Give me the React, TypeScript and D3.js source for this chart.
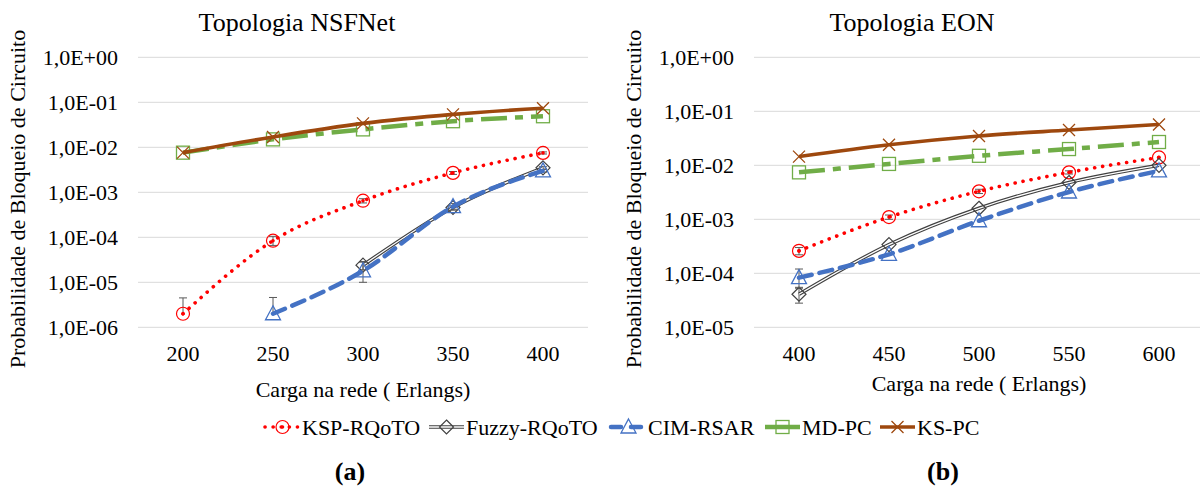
import * as d3 from "d3";

// categories (Erlangs)
const loadsNSF = ["200", "250", "300", "350", "400"];
const loadsEON = ["400", "450", "500", "550", "600"];

// y tick labels
const ticksNSF = ["1,0E+00", "1,0E-01", "1,0E-02", "1,0E-03", "1,0E-04", "1,0E-05", "1,0E-06"];
const ticksEON = ["1,0E+00", "1,0E-01", "1,0E-02", "1,0E-03", "1,0E-04", "1,0E-05"];

// NSFNet values
const nsfKSP = [2.0e-6, 8.4e-5, 6.5e-4, 2.7e-3, 7.5e-3];
const nsfFuzzy = [null, null, 2.4e-5, 4.6e-4, 3.5e-3];
const nsfCIM = [null, 2.0e-6, 1.8e-5, 4.8e-4, 3.0e-3];
const nsfMD = [7.6e-3, 1.5e-2, 2.5e-2, 3.8e-2, 4.9e-2];
const nsfKS = [7.6e-3, 1.7e-2, 3.4e-2, 5.4e-2, 7.4e-2];

// NSFNet error bars [low, high]
const nsfKSPErr = [[null, 4.5e-6], [6.6e-5, 1.05e-4], [5.8e-4, 7.2e-4], [2.5e-3, 2.9e-3], [7.1e-3, 7.9e-3]];
const nsfFuzzyErr = [null, null, [1.9e-5, 2.9e-5], [4.2e-4, 5.0e-4], [3.3e-3, 3.7e-3]];
const nsfCIMErr = [null, [null, 4.6e-6], [1.0e-5, 2.8e-5], [4.0e-4, 5.6e-4], [2.8e-3, 3.2e-3]];

// EON values
const eonKSP = [2.6e-4, 1.1e-3, 3.3e-3, 7.4e-3, 1.4e-2];
const eonFuzzy = [4.1e-5, 3.4e-4, 1.6e-3, 4.8e-3, 1.0e-2];
const eonCIM = [8.3e-5, 2.25e-4, 9.4e-4, 3.2e-3, 7.9e-3];
const eonMD = [7.4e-3, 1.06e-2, 1.5e-2, 2.0e-2, 2.7e-2];
const eonKS = [1.45e-2, 2.4e-2, 3.5e-2, 4.5e-2, 5.7e-2];

const eonKSPErr = [[2.2e-4, 3.0e-4], [1.0e-3, 1.2e-3], [3.0e-3, 3.6e-3], [6.9e-3, 7.9e-3], null];
const eonFuzzyErr = [[2.8e-5, 5.3e-5], null, null, null, null];
const eonCIMErr = [[5.5e-5, 1.2e-4], null, null, null, null];

const seriesNames = ["KSP-RQoTO", "Fuzzy-RQoTO", "CIM-RSAR", "MD-PC", "KS-PC"];

const FONT = "Liberation Serif, Times New Roman, serif";

const styles = {
  "KSP-RQoTO": { color: "#ff0000", width: 3.6, dash: "0.1 8", cap: "round", marker: "circle" },
  "Fuzzy-RQoTO": { color: "#404040", width: 3.6, dash: null, cap: "butt", marker: "diamond" },
  "CIM-RSAR": { color: "#4472c4", width: 4.5, dash: "13 8", cap: "round", marker: "triangle" },
  "MD-PC": { color: "#70ad47", width: 4.5, dash: "26 8 8 8", cap: "butt", marker: "square" },
  "KS-PC": { color: "#9e480e", width: 3.6, dash: null, cap: "butt", marker: "x" },
};

function Marker({ type, x, y, color }) {
  if (type === "circle")
    return (
      <g>
        <circle cx={x} cy={y} r={6.5} fill="none" stroke={color} strokeWidth={1.2} />
        <circle cx={x} cy={y} r={1.8} fill={color} />
      </g>
    );
  if (type === "diamond")
    return <path d={`M${x},${y - 7}L${x + 7},${y}L${x},${y + 7}L${x - 7},${y}Z`} fill="none" stroke="#404040" strokeWidth={1.2} />;
  if (type === "triangle")
    return <path d={`M${x},${y - 8}L${x + 7.5},${y + 6}L${x - 7.5},${y + 6}Z`} fill="none" stroke={color} strokeWidth={1.3} />;
  if (type === "square")
    return <rect x={x - 6.5} y={y - 6.5} width={13} height={13} fill="none" stroke={color} strokeWidth={1.3} />;
  return (
    <path d={`M${x - 6},${y - 6}L${x + 6},${y + 6}M${x + 6},${y - 6}L${x - 6},${y + 6}`} stroke={color} strokeWidth={1.3} />
  );
}

function Panel({ cats, ticks, series, errs, title, left, tickRight, titleX, yLabelX, xLabelY }) {
  const top = 57.3;
  const bottom = 327.3;
  const x = d3.scaleBand().domain(cats).range([left, left + 450]);
  const minExp = -(ticks.length - 1);
  const y = d3.scaleLog().domain([Math.pow(10, minExp), 1]).range([bottom, top]);
  const cx = (c) => x(c) + x.bandwidth() / 2;
  const line = d3
    .line()
    .defined((d) => d[1] != null)
    .x((d) => cx(d[0]))
    .y((d) => y(d[1]))
    .curve(d3.curveMonotoneX);

  return (
    <g fontFamily={FONT}>
      {ticks.map((t, i) => (
        <g key={t}>
          <line x1={left} x2={left + 450} y1={y(Math.pow(10, -i))} y2={y(Math.pow(10, -i))} stroke="#d9d9d9" strokeWidth={1} />
          <text x={tickRight} y={y(Math.pow(10, -i))} dy="0.35em" textAnchor="end" fontSize={22}>
            {t}
          </text>
        </g>
      ))}
      {cats.map((c) => (
        <text key={c} x={cx(c)} y={361} textAnchor="middle" fontSize={22}>
          {c}
        </text>
      ))}
      <text x={titleX} y={31} textAnchor="middle" fontSize={26}>
        {title}
      </text>
      <text transform={`translate(${yLabelX},199) rotate(-90)`} textAnchor="middle" fontSize={22}>
        Probabilidade de Bloqueio de Circuito
      </text>
      <text x={left + 225} y={xLabelY} textAnchor="middle" fontSize={22}>
        Carga na rede ( Erlangs)
      </text>
      {seriesNames.map((name, si) => {
        const st = styles[name];
        const pts = cats.map((c, i) => [c, series[si][i]]);
        const d = line(pts);
        const err = errs[si];
        return (
          <g key={name}>
            {err &&
              err.map((e, i) =>
                e && series[si][i] != null ? (
                  <g key={i} stroke="#595959" strokeWidth={1}>
                    <line x1={cx(cats[i])} x2={cx(cats[i])} y1={y(e[0] ?? series[si][i])} y2={y(e[1])} />
                    <line x1={cx(cats[i]) - 4} x2={cx(cats[i]) + 4} y1={y(e[1])} y2={y(e[1])} />
                    {e[0] != null && <line x1={cx(cats[i]) - 4} x2={cx(cats[i]) + 4} y1={y(e[0])} y2={y(e[0])} />}
                  </g>
                ) : null
              )}
            <path d={d} fill="none" stroke={st.color} strokeWidth={st.width} strokeDasharray={st.dash || undefined} strokeLinecap={st.cap} />
            {name === "Fuzzy-RQoTO" && <path d={d} fill="none" stroke="#ffffff" strokeWidth={1.3} />}
            {pts.map((p, i) =>
              p[1] != null ? <Marker key={i} type={st.marker} x={cx(p[0])} y={y(p[1])} color={st.color} /> : null
            )}
          </g>
        );
      })}
    </g>
  );
}

function Legend() {
  const items = [
    { name: "KSP-RQoTO", x0: 265 },
    { name: "Fuzzy-RQoTO", x0: 429 },
    { name: "CIM-RSAR", x0: 611 },
    { name: "MD-PC", x0: 765 },
    { name: "KS-PC", x0: 880 },
  ];
  const ly = 427;
  return (
    <g fontFamily={FONT}>
      {items.map((it) => {
        const st = styles[it.name];
        const len = 35;
        return (
          <g key={it.name}>
            <line
              x1={it.x0}
              x2={it.x0 + len}
              y1={ly}
              y2={ly}
              stroke={st.color}
              strokeWidth={st.width}
              strokeDasharray={it.name === "KSP-RQoTO" ? "0.1 8" : it.name === "CIM-RSAR" ? "10 10" : undefined}
              strokeLinecap={st.cap}
            />
            {it.name === "Fuzzy-RQoTO" && <line x1={it.x0} x2={it.x0 + len} y1={ly} y2={ly} stroke="#fff" strokeWidth={1.3} />}
            <Marker type={st.marker} x={it.x0 + len / 2} y={ly} color={st.color} />
            <text x={it.x0 + len + 2} y={ly} dy="0.35em" fontSize={22}>
              {it.name}
            </text>
          </g>
        );
      })}
    </g>
  );
}

export default function App() {
  return (
    <svg width={1200} height={490} style={{ position: "absolute", left: 0, top: 0, background: "#fff" }} fontFamily={FONT}>
      <rect width={1200} height={490} fill="#fff" />
      <Panel
        cats={loadsNSF}
        ticks={ticksNSF}
        series={[nsfKSP, nsfFuzzy, nsfCIM, nsfMD, nsfKS]}
        errs={[nsfKSPErr, nsfFuzzyErr, nsfCIMErr, null, null]}
        title="Topologia NSFNet"
        left={138}
        tickRight={118}
        titleX={297}
        yLabelX={25}
        xLabelY={397}
      />
      <Panel
        cats={loadsEON}
        ticks={ticksEON}
        series={[eonKSP, eonFuzzy, eonCIM, eonMD, eonKS]}
        errs={[eonKSPErr, eonFuzzyErr, eonCIMErr, null, null]}
        title="Topologia EON"
        left={754}
        tickRight={734}
        titleX={912}
        yLabelX={641}
        xLabelY={391}
      />
      <Legend />
      <text x={350} y={480} textAnchor="middle" fontSize={26} fontWeight="bold">
        (a)
      </text>
      <text x={943} y={480} textAnchor="middle" fontSize={26} fontWeight="bold">
        (b)
      </text>
    </svg>
  );
}
